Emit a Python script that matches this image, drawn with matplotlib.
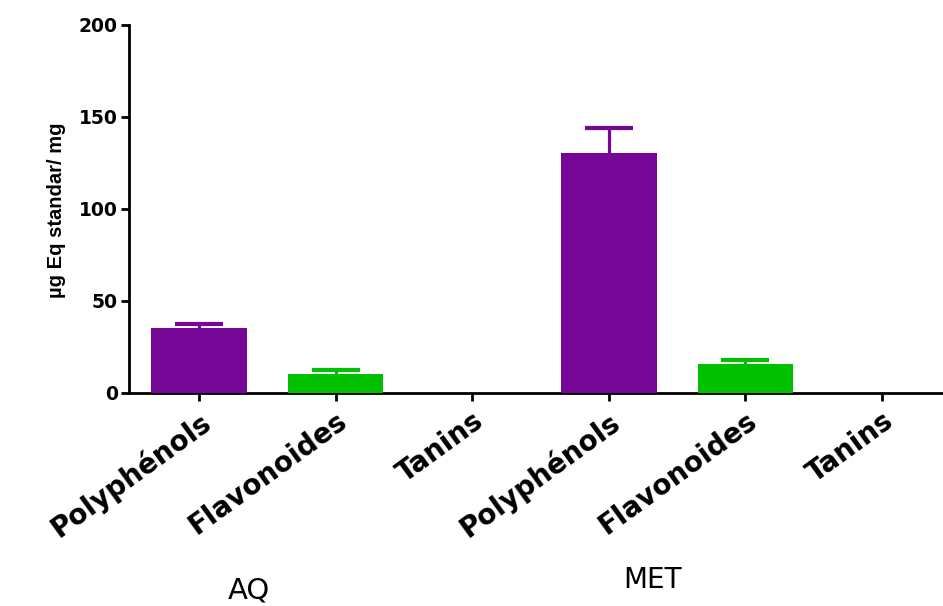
import matplotlib
matplotlib.use("Agg")
import matplotlib.pyplot as plt
import numpy as np

categories = ["Polyphénols", "Flavonoides", "Tanins", "Polyphénols", "Flavonoides", "Tanins"]
groups = ["AQ", "MET"]
values = [35.2, 10.5, 0, 130.6, 15.9, 0]
errors = [2.5, 2.0, 0, 13.6, 2.0, 0]
colors = ["#760796", "#00c000", "#00c000", "#760796", "#00c000", "#00c000"]
yticks = [0, 50, 100, 150, 200]
ylabel = "µg Eq standar/ mg"

fig = plt.figure(figsize=(9.43, 6.06), dpi=100)
ax = fig.add_axes([129/943, 1-393/606, 1-129/943, (393-25)/606])

x = np.arange(len(categories))
for i in range(len(categories)):
    if values[i] > 0:
        ax.bar(x[i], values[i], width=0.70, color=colors[i], edgecolor="none", zorder=3)
        ax.errorbar(x[i], values[i], yerr=errors[i], fmt="none",
                    ecolor=colors[i], elinewidth=2.3, capsize=17, capthick=3.0, zorder=2)

ax.set_xlim(-0.512, 5.446)
ax.set_ylim(0, 200)
ax.set_yticks(yticks)
ax.set_xticks(x)
ax.set_xticklabels(categories, rotation=36, ha="right", va="top", rotation_mode="anchor",
                   fontsize=20, fontweight="bold", family="DejaVu Sans")
for lab in ax.get_yticklabels():
    lab.set_fontsize(13.5)
    lab.set_fontweight("bold")
    lab.set_family("DejaVu Sans")

for s in ["top", "right"]:
    ax.spines[s].set_visible(False)
for s in ["left", "bottom"]:
    ax.spines[s].set_linewidth(2.0)
ax.tick_params(axis="y", length=6, width=2.0, pad=2)
ax.tick_params(axis="x", length=6, width=2.0, pad=4)

fig.text(57/943, 1-210/606, ylabel, rotation=90, ha="center", va="center",
         fontsize=14.5, fontweight="bold", family="Liberation Sans")

fig.text(249/943, 1-590/606, groups[0], ha="center", va="center", fontsize=21, family="DejaVu Sans")
fig.text(652/943, 1-580/606, groups[1], ha="center", va="center", fontsize=20, family="DejaVu Sans")

fig.savefig("out.png", dpi=100)
